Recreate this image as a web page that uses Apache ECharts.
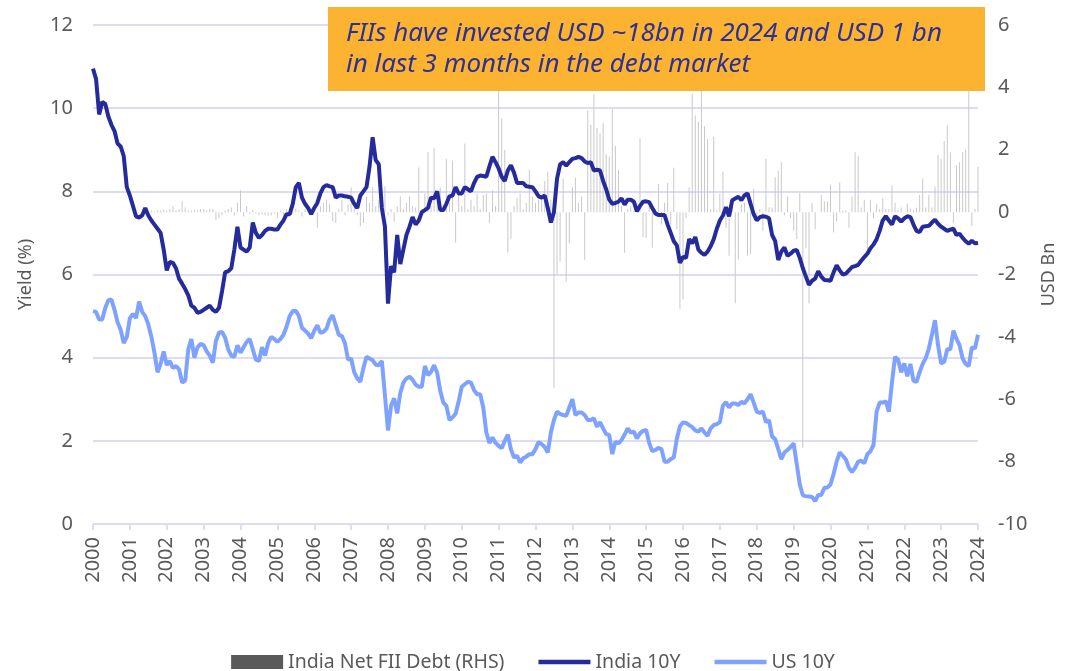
<!DOCTYPE html>
<html>
<head>
<meta charset="utf-8">
<script src="https://cdn.jsdelivr.net/npm/echarts@6/dist/echarts.min.js"></script>
<style>
  html, body { margin: 0; padding: 0; background: #fff; }
  #chart { width: 1066px; height: 671px; }
</style>
</head>
<body>
<div id="chart"></div>
<script>
// yearly tick labels; the data is monthly from Jan 2000 to Jan 2024
const years = ['2000','2001','2002','2003','2004','2005','2006','2007','2008','2009','2010','2011',
  '2012','2013','2014','2015','2016','2017','2018','2019','2020','2021','2022','2023','2024'];

// India 10Y yield, %
const india10y = [
  10.95,10.7,9.85,10.15,10.1,9.8,9.6,9.45,9.15,9.08,8.85,8.1,
  7.9,7.65,7.4,7.37,7.42,7.6,7.42,7.3,7.2,7.1,7.0,6.6,
  6.1,6.3,6.28,6.15,5.9,5.78,5.65,5.5,5.25,5.2,5.08,5.1,
  5.15,5.2,5.25,5.15,5.1,5.2,5.6,6.05,6.08,6.15,6.6,7.15,
  6.65,6.6,6.55,6.65,7.25,7.0,6.88,6.95,7.05,7.1,7.1,7.08,
  7.08,7.2,7.3,7.45,7.45,7.7,8.1,8.2,7.85,7.7,7.6,7.45,
  7.6,7.72,7.95,8.1,8.15,8.12,8.1,7.85,7.9,7.9,7.88,7.87,
  7.85,7.7,7.6,7.9,8.0,8.1,8.6,9.3,8.75,8.65,7.6,7.15,
  5.3,6.2,6.05,6.95,6.25,6.6,6.95,7.15,7.38,7.2,7.3,7.5,
  7.55,7.6,7.85,7.83,8.0,7.55,7.55,7.7,7.88,7.9,8.1,7.95,
  7.95,8.1,8.05,8.0,8.2,8.35,8.38,8.37,8.35,8.6,8.83,8.7,
  8.55,8.35,8.25,8.5,8.63,8.45,8.2,8.2,8.2,8.12,8.11,8.1,
  8.0,7.88,7.85,7.9,7.6,7.25,7.5,8.3,8.65,8.7,8.62,8.7,
  8.78,8.8,8.83,8.8,8.72,8.68,8.7,8.5,8.52,8.5,8.25,8.05,
  7.8,7.7,7.72,7.75,7.83,7.68,7.8,7.8,7.75,7.52,7.65,7.75,
  7.76,7.74,7.6,7.47,7.43,7.43,7.43,7.2,7.0,6.8,6.7,6.28,
  6.42,6.4,6.85,6.75,6.9,6.6,6.52,6.47,6.55,6.68,6.85,7.1,
  7.3,7.42,7.62,7.4,7.78,7.83,7.87,7.79,7.9,7.95,7.7,7.45,
  7.3,7.38,7.4,7.39,7.35,6.95,6.8,6.35,6.55,6.65,6.45,6.5,
  6.57,6.59,6.4,6.15,5.95,5.75,5.85,5.9,6.08,5.95,5.87,5.86,
  5.85,6.05,6.22,6.1,6.0,6.02,6.1,6.18,6.2,6.23,6.33,6.42,
  6.5,6.63,6.72,6.85,7.05,7.3,7.4,7.3,7.2,7.4,7.35,7.27,
  7.35,7.4,7.38,7.2,7.05,7.02,7.15,7.16,7.17,7.25,7.32,7.22,
  7.15,7.1,7.05,7.08,7.1,6.95,6.98,6.88,6.8,6.74,6.81,6.75,
  6.76
];

// US 10Y yield, %
const us10y = [
  5.12,5.1,4.92,4.92,5.2,5.38,5.4,5.15,4.85,4.67,4.35,4.5,
  4.95,5.05,4.95,5.35,5.1,5.0,4.8,4.5,4.12,3.65,3.85,4.15,
  3.82,3.92,3.75,3.8,3.72,3.4,3.45,4.2,4.45,4.0,4.25,4.33,
  4.3,4.15,4.05,3.88,4.4,4.6,4.62,4.48,4.2,4.05,4.02,4.3,
  4.12,4.25,4.38,4.45,4.2,3.95,3.92,4.25,4.05,4.35,4.5,4.45,
  4.38,4.45,4.55,4.75,5.0,5.12,5.13,5.0,4.72,4.65,4.58,4.47,
  4.65,4.78,4.6,4.62,4.7,4.92,5.02,4.78,4.55,4.52,4.35,3.95,
  3.98,3.65,3.5,3.42,3.75,4.02,3.98,3.94,3.83,3.82,3.92,3.1,
  2.25,2.85,3.02,2.66,3.15,3.4,3.5,3.54,3.47,3.35,3.3,3.3,
  3.8,3.58,3.66,3.82,3.64,3.2,2.92,2.84,2.5,2.56,2.65,2.95,
  3.3,3.36,3.42,3.4,3.22,3.12,3.12,2.8,2.2,1.95,2.08,1.95,
  1.88,1.82,2.0,2.15,1.8,1.6,1.64,1.48,1.58,1.62,1.68,1.68,
  1.8,1.97,1.92,1.85,1.72,2.2,2.5,2.7,2.65,2.62,2.6,2.8,
  3.0,2.62,2.68,2.68,2.62,2.5,2.5,2.54,2.34,2.45,2.3,2.16,
  2.14,1.68,1.98,1.94,2.02,2.15,2.3,2.2,2.22,2.06,2.18,2.24,
  2.26,1.95,1.75,1.78,1.83,1.8,1.5,1.5,1.56,1.6,2.05,2.35,
  2.44,2.43,2.38,2.33,2.25,2.22,2.3,2.2,2.12,2.3,2.38,2.4,
  2.45,2.85,2.93,2.8,2.9,2.9,2.86,2.94,2.9,3.0,3.12,2.92,
  2.7,2.67,2.7,2.45,2.5,2.1,2.04,1.8,1.56,1.72,1.78,1.85,
  1.94,1.45,0.95,0.69,0.67,0.66,0.65,0.55,0.7,0.7,0.87,0.88,
  0.95,1.2,1.5,1.72,1.64,1.55,1.35,1.25,1.35,1.5,1.52,1.46,
  1.68,1.75,1.9,2.7,2.92,2.92,2.95,2.7,3.4,4.02,3.95,3.65,
  3.86,3.55,3.85,3.45,3.42,3.65,3.85,3.99,4.22,4.55,4.9,4.3,
  3.86,3.9,4.2,4.2,4.65,4.45,4.3,3.98,3.85,3.8,4.25,4.22,
  4.55
];

// India net FII debt flows, USD bn (right axis)
const fiiDebt = [
  0,0,0,0,0,0,0,0,0,0,0,0,
  0,0,0,0,0,0,0,0.05,0.03,0.05,0.05,0.08,
  0.05,0.1,0.2,0.05,0.1,0.35,0.15,0.05,0.05,0.08,0.05,0.1,
  0.1,0.05,0.12,0.1,-0.25,-0.2,-0.1,0.05,0.1,0.15,-0.1,0.3,
  0.7,-0.15,0.2,-0.05,0.08,-0.05,-0.1,-0.08,-0.1,-0.12,-0.1,-0.05,
  -0.2,0.05,-0.1,0.1,0.15,-0.05,0.1,0.05,-0.15,0.1,0.15,-0.1,
  0.1,-0.5,0.2,0.3,0.4,0.28,-0.3,-0.35,0.1,0.4,-0.1,0.25,
  0.8,0.3,-0.1,-0.45,-0.35,0.5,0.3,0.8,0.2,0.4,0.3,0.83,
  -0.1,0.1,-0.3,0.2,0.5,0.1,0.3,0.5,0.2,0.15,1.43,0.1,
  0.6,1.93,0.2,2.05,0.3,0.8,0.2,1.7,0.3,1.65,-0.98,0.6,
  0.2,2.2,0.1,0.4,0.2,0.6,0.1,0.55,0.6,-0.35,0.7,0.2,
  4.3,3.0,2.0,-1.3,-0.85,0.2,0.45,0.6,0.1,0.3,1.35,0.5,
  0.3,0.4,0.5,1.0,1.3,0.4,-5.65,-2.0,-1.58,1.08,-2.23,-1.0,
  0.8,1.1,0.3,0.5,-1.53,3.27,2.8,3.78,2.7,2.53,2.86,1.86,
  1.77,3.3,2.12,1.35,0.2,-1.3,0.1,0.2,0.05,0.3,2.37,-0.8,
  -0.82,0.2,-1.14,0.1,0.9,-0.4,0.3,0.93,-0.4,1.42,-0.55,-3.1,
  -2.8,-0.2,0.8,3.8,3.1,2.9,4.3,2.75,2.35,0.1,2.42,0.05,
  0.6,1.3,-0.5,-1.4,0.25,-2.92,-1.52,0.25,0.3,-1.4,-1.35,0.75,
  -0.2,0.1,-0.6,1.7,0.15,0.15,1.12,1.33,1.6,-0.1,0.5,-0.2,
  -0.6,-0.86,0.62,-7.55,-1.14,-2.92,0.3,-0.55,0,0.55,0.35,0.33,
  0.88,-0.65,-0.3,0.95,0.05,0.05,-0.5,0.5,1.92,1.8,0.15,0.4,
  -1.2,0.4,-0.2,0.25,0.1,0.45,0.1,0.1,0.85,0.3,0.05,0.15,
  0,0.28,0.12,0.05,0.15,0.55,1.07,0.15,0.55,0.15,0.82,1.85,
  1.7,2.28,2.78,1.92,-0.35,1.5,1.6,1.92,2.0,4.3,-0.45,0.1,
  1.45
];

const noteLines = ['FIIs have invested USD ~18bn in 2024 and USD 1 bn', 'in last 3 months in the debt market'];

// month categories, Jan 2000 .. Jan 2024
const months = [];
years.forEach(y => {
  for (let m = 1; m <= 12; m++) {
    if (months.length < india10y.length) months.push(y + '-' + m);
  }
});

const font = 'Noto Sans';
const grey = '#595959';
const gridColor = '#dcdcf4';
const yearTick = (idx) => idx % 12 === 0;
// flat bar used as legend icon for the two lines
const lineIcon = 'path://M0,0 H110 V10 H0 Z';

const chart = echarts.init(document.getElementById('chart'));
chart.setOption({
  animation: false,
  textStyle: { fontFamily: font },
  grid: { left: 93, right: 86, top: 25, bottom: 147 },
  legend: {
    top: 647,
    left: 'center',
    itemWidth: 52,
    itemHeight: 14,
    itemGap: 34,
    textStyle: { fontSize: 19.5, color: grey, fontFamily: font },
    data: [
      { name: 'India Net FII Debt (RHS)', icon: 'rect', itemStyle: { color: grey } },
      { name: 'India 10Y', icon: lineIcon },
      { name: 'US 10Y', icon: lineIcon }
    ]
  },
  xAxis: {
    type: 'category',
    data: months,
    boundaryGap: false,
    axisLine: { lineStyle: { color: gridColor, width: 2 } },
    axisTick: { interval: yearTick, length: 6, lineStyle: { color: gridColor, width: 2 } },
    axisLabel: {
      interval: yearTick,
      rotate: 90,
      margin: 13,
      fontSize: 20,
      color: grey,
      formatter: v => v.slice(0, 4)
    },
    splitLine: { show: false }
  },
  yAxis: [
    {
      type: 'value',
      min: 0, max: 12, interval: 2,
      name: 'Yield (%)',
      nameLocation: 'middle',
      nameGap: 58,
      nameTextStyle: { fontSize: 18, color: grey },
      axisLine: { show: false },
      axisTick: { show: false },
      axisLabel: { fontSize: 20, color: grey, margin: 20 },
      splitLine: { lineStyle: { color: gridColor, width: 2 } }
    },
    {
      type: 'value',
      min: -10, max: 6, interval: 2,
      name: 'USD Bn',
      nameLocation: 'middle',
      nameGap: 62,
      nameTextStyle: { fontSize: 18, color: grey },
      axisLine: { show: false },
      axisTick: { show: false },
      axisLabel: { fontSize: 20, color: grey, margin: 20 },
      splitLine: { show: false }
    }
  ],
  series: [
    {
      name: 'India Net FII Debt (RHS)',
      type: 'bar',
      yAxisIndex: 1,
      data: fiiDebt,
      barWidth: 1,
      itemStyle: { color: '#c9c9c9' },
      z: 1
    },
    {
      name: 'India 10Y',
      type: 'line',
      data: india10y,
      symbol: 'none',
      lineStyle: { color: '#252b9b', width: 4 },
      itemStyle: { color: '#252b9b' },
      z: 3
    },
    {
      name: 'US 10Y',
      type: 'line',
      data: us10y,
      symbol: 'none',
      lineStyle: { color: '#7ea2fd', width: 4 },
      itemStyle: { color: '#7ea2fd' },
      z: 2
    }
  ],
  graphic: [
    {
      type: 'rect',
      left: 328, top: 7, z: 100,
      shape: { width: 657, height: 84 },
      style: { fill: '#fdb332' }
    },
    {
      type: 'text',
      left: 346, top: 18, z: 101,
      style: {
        text: noteLines.join('\n'),
        fill: '#2e3192',
        font: 'italic 26px "Noto Sans"',
        lineHeight: 31
      }
    }
  ]
});
</script>
</body>
</html>
